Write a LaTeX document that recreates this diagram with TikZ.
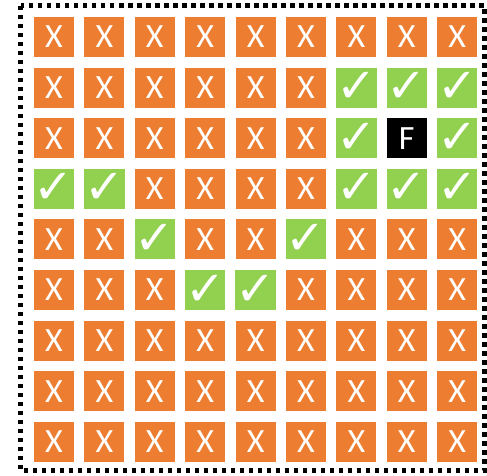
\documentclass[tikz,border=0pt]{standalone}
\usepackage{fontspec}
\setmainfont{Carlito}
\newfontfamily\symfont{DejaVu Sans}
\definecolor{orng}{HTML}{ED7D31}
\definecolor{grn}{HTML}{92D050}
\newcommand\mytxtx{\fontsize{34}{34}\selectfont X}
\newcommand\mytxtc{\symfont\fontsize{48}{48}\selectfont ✓}
\newcommand\mytxtf{\fontsize{34}{34}\selectfont F}
\tikzset{
  sq/.style={minimum size=40pt, inner sep=0pt, text=white, draw=none},
  cellx/.style={sq, fill=orng},
  cellc/.style={sq, fill=grn},
  cellf/.style={sq, fill=black},
  frame/.style={line width=4.5pt, dash pattern=on 4.5pt off 4.5pt}
}
\begin{document}
\begin{tikzpicture}[x=1pt,y=-1pt]
\useasboundingbox (0,0) rectangle (487,475);
\draw[frame] (20.5,5.5) rectangle (484.5,470.5);
\foreach \row [count=\r] in {
  {x,x,x,x,x,x,x,x,x},
  {x,x,x,x,x,x,c,c,c},
  {x,x,x,x,x,x,c,f,c},
  {c,c,x,x,x,x,c,c,c},
  {x,x,c,x,x,c,x,x,x},
  {x,x,x,c,c,x,x,x,x},
  {x,x,x,x,x,x,x,x,x},
  {x,x,x,x,x,x,x,x,x},
  {x,x,x,x,x,x,x,x,x}} {
  \foreach \t [count=\c] in \row {
    \node[cell\t] (n\r-\c) at ({54+50.4*(\c-1)},{37+50.6*(\r-1)}) {\csname mytxt\t\endcsname};
  }
}
\end{tikzpicture}
\end{document}
